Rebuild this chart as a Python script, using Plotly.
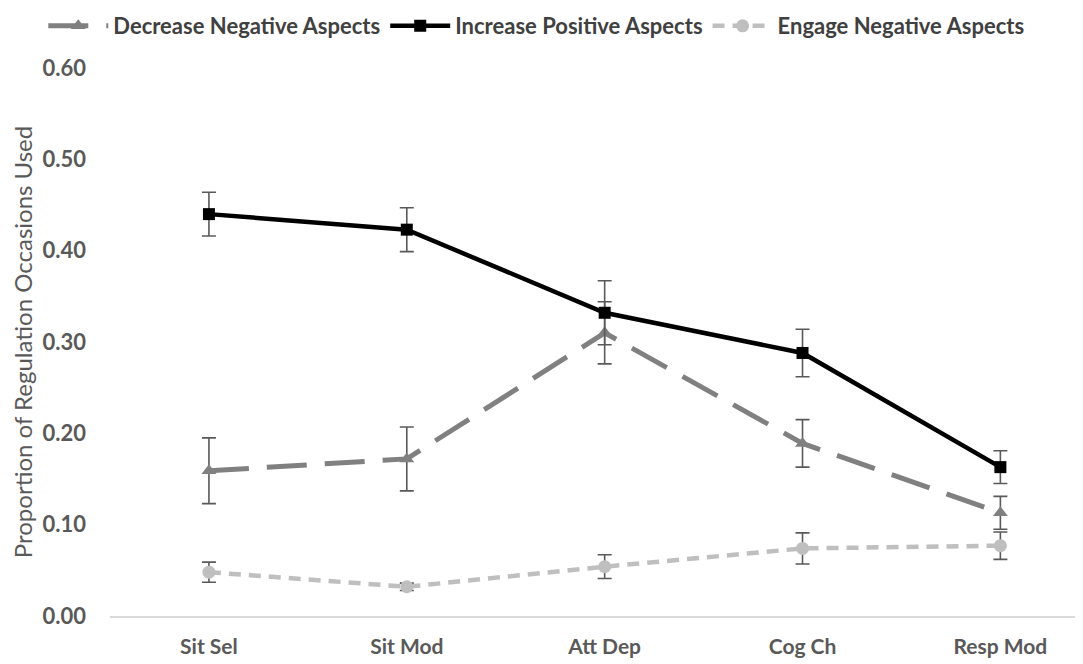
import plotly.graph_objects as go

categories = ["Sit Sel", "Sit Mod", "Att Dep", "Cog Ch", "Resp Mod"]
decrease_neg = [0.159, 0.172, 0.310, 0.189, 0.113]
decrease_neg_err = [0.036, 0.035, 0.034, 0.026, 0.018]
increase_pos = [0.440, 0.423, 0.332, 0.288, 0.163]
increase_pos_err = [0.024, 0.024, 0.035, 0.026, 0.018]
engage_neg = [0.048, 0.032, 0.054, 0.074, 0.077]
engage_neg_err = [0.011, 0.004, 0.013, 0.017, 0.015]
y_ticks = [0.0, 0.1, 0.2, 0.3, 0.4, 0.5, 0.6]

FONT = "Lato"
TXT = "#595959"
xs = list(range(len(categories)))

def err(arr):
    return dict(type="data", array=arr, visible=True, color="#595959",
                thickness=1.6, width=7)

fig = go.Figure()
fig.add_trace(go.Scatter(
    x=xs, y=decrease_neg, name="Decrease Negative Aspects", mode="lines+markers",
    line=dict(color="#808080", width=5, dash="40px,18px"),
    marker=dict(symbol="triangle-up", size=13, color="#808080"),
    error_y=err(decrease_neg_err)))
fig.add_trace(go.Scatter(
    x=xs, y=increase_pos, name="Increase Positive Aspects", mode="lines+markers",
    line=dict(color="#000000", width=4.5),
    marker=dict(symbol="square", size=12, color="#000000"),
    error_y=err(increase_pos_err)))
fig.add_trace(go.Scatter(
    x=xs, y=engage_neg, name="Engage Negative Aspects", mode="lines+markers",
    line=dict(color="#bfbfbf", width=4.5, dash="12px,8px"),
    marker=dict(symbol="circle", size=13, color="#bfbfbf"),
    error_y=err(engage_neg_err)))

fig.update_layout(
    width=1083, height=664,
    margin=dict(l=102, r=0, t=60, b=56, autoexpand=False),
    paper_bgcolor="white", plot_bgcolor="white",
    font=dict(family=FONT, color=TXT, size=18),
    legend=dict(orientation="h", x=-0.068, xanchor="left", y=1.115, yanchor="top",
                font=dict(family=FONT, size=22, color="#404040", weight="bold"), itemwidth=60,
                tracegroupgap=0, traceorder="normal"),
    xaxis=dict(range=[-0.5, 4.458], tickmode="array", tickvals=xs, ticktext=categories,
               showgrid=False, zeroline=False, showline=True, linecolor="#d9d9d9",
               linewidth=1.5, ticks="", automargin=False,
               tickfont=dict(family=FONT, size=21, color=TXT, weight="bold"),
               ticklabelstandoff=11),
    yaxis=dict(range=[0, 0.6], tickmode="array", tickvals=y_ticks, automargin=False,
               ticktext=[f"{v:.2f}" for v in y_ticks], showgrid=False, zeroline=False,
               showline=False, ticks="", ticklabelstandoff=23,
               tickfont=dict(family=FONT, size=22, color=TXT, weight="bold"),
               title=dict(text="Proportion of Regulation Occasions Used",
                          font=dict(family=FONT, size=24, color=TXT), standoff=6)),
    showlegend=True,
)
fig.write_html("out.html")
